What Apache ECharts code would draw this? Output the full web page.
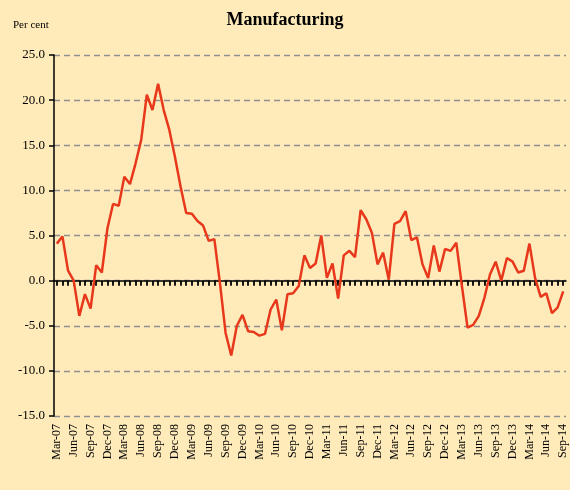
<!DOCTYPE html>
<html>
<head>
<meta charset="utf-8">
<script src="https://cdn.jsdelivr.net/npm/echarts@6/dist/echarts.min.js"></script>
<style>
html,body{margin:0;padding:0;background:#ffebba;}
#chart{width:570px;height:490px;}
</style>
</head>
<body>
<div id="chart"></div>
<script>
// Categories: monthly, Mar-07 to Sep-14
const monthNames = ['Jan','Feb','Mar','Apr','May','Jun','Jul','Aug','Sep','Oct','Nov','Dec'];
const months = [];
for (let y = 2007; y <= 2014; y++) {
  for (let m = 0; m < 12; m++) {
    if (y === 2007 && m < 2) continue;
    if (y === 2014 && m > 8) continue;
    months.push(monthNames[m] + '-' + String(y).slice(2));
  }
}
// Per cent values
const manufacturing = [
  4.1, 4.9, 1.1, 0.0, -3.9, -1.5, -3.1, 1.7, 0.9, 5.8,
  8.5, 8.3, 11.5, 10.7, 13.0, 15.6, 20.6, 18.9, 21.8, 18.9,
  16.7, 13.7, 10.4, 7.5, 7.4, 6.6, 6.1, 4.4, 4.6, -0.3,
  -5.8, -8.3, -5.0, -3.8, -5.6, -5.7, -6.1, -5.9, -3.2, -2.1,
  -5.5, -1.5, -1.4, -0.6, 2.8, 1.4, 1.9, 5.0, 0.3, 1.9,
  -2.0, 2.8, 3.3, 2.6, 7.8, 6.8, 5.3, 1.8, 3.1, 0.1,
  6.3, 6.6, 7.7, 4.5, 4.8, 1.8, 0.3, 3.9, 1.0, 3.5,
  3.3, 4.2, -0.6, -5.2, -4.9, -3.9, -1.9, 0.7, 2.1, 0.0,
  2.5, 2.1, 0.9, 1.1, 4.1, 0.3, -1.8, -1.4, -3.6, -3.0,
  -1.2
];
const yTicks = { min: -15, max: 25, interval: 5 };

const chart = echarts.init(document.getElementById('chart'));
const serif = 'Liberation Serif';
chart.setOption({
  backgroundColor: '#ffebba',
  animation: false,
  title: [
    { text: 'Manufacturing', left: 'center', top: 6,
      textStyle: { fontFamily: serif, fontSize: 18, fontWeight: 'bold', color: '#000' } },
    { text: 'Per cent', left: 8, top: 15,
      textStyle: { fontFamily: serif, fontSize: 11, fontWeight: 'normal', color: '#000' } }
  ],
  grid: { left: 54, right: 4, top: 55, bottom: 74 },
  xAxis: [
    {
      type: 'category', data: months, position: 'bottom', boundaryGap: true,
      axisLine: { onZero: true, lineStyle: { color: '#000', width: 1.5 } },
      axisTick: { show: true, interval: 0, alignWithLabel: true, length: 5, lineStyle: { color: '#000', width: 1.8 } },
      axisLabel: { show: false }, splitLine: { show: false }
    },
    {
      type: 'category', data: months, position: 'bottom', boundaryGap: true,
      axisLine: { show: false, onZero: false }, axisTick: { show: false },
      axisLabel: { interval: 2, rotate: 90, margin: 8, fontFamily: serif, fontSize: 12, color: '#000' },
      splitLine: { show: false }
    }
  ],
  yAxis: {
    type: 'value', min: yTicks.min, max: yTicks.max, interval: yTicks.interval,
    axisLine: { show: true, lineStyle: { color: '#000', width: 1.5 } },
    axisTick: { show: true, length: 5, lineStyle: { color: '#000', width: 1.5 } },
    axisLabel: { formatter: v => v.toFixed(1), fontFamily: serif, fontSize: 13, color: '#000', margin: 9 },
    splitLine: { show: true, lineStyle: { color: '#8f8f8f', type: [6, 4], width: 1.3 } }
  },
  series: [{
    type: 'line', data: manufacturing, xAxisIndex: 0, symbol: 'none',
    lineStyle: { color: '#e8381c', width: 2.5 }, z: 3
  }]
});
</script>
</body>
</html>
